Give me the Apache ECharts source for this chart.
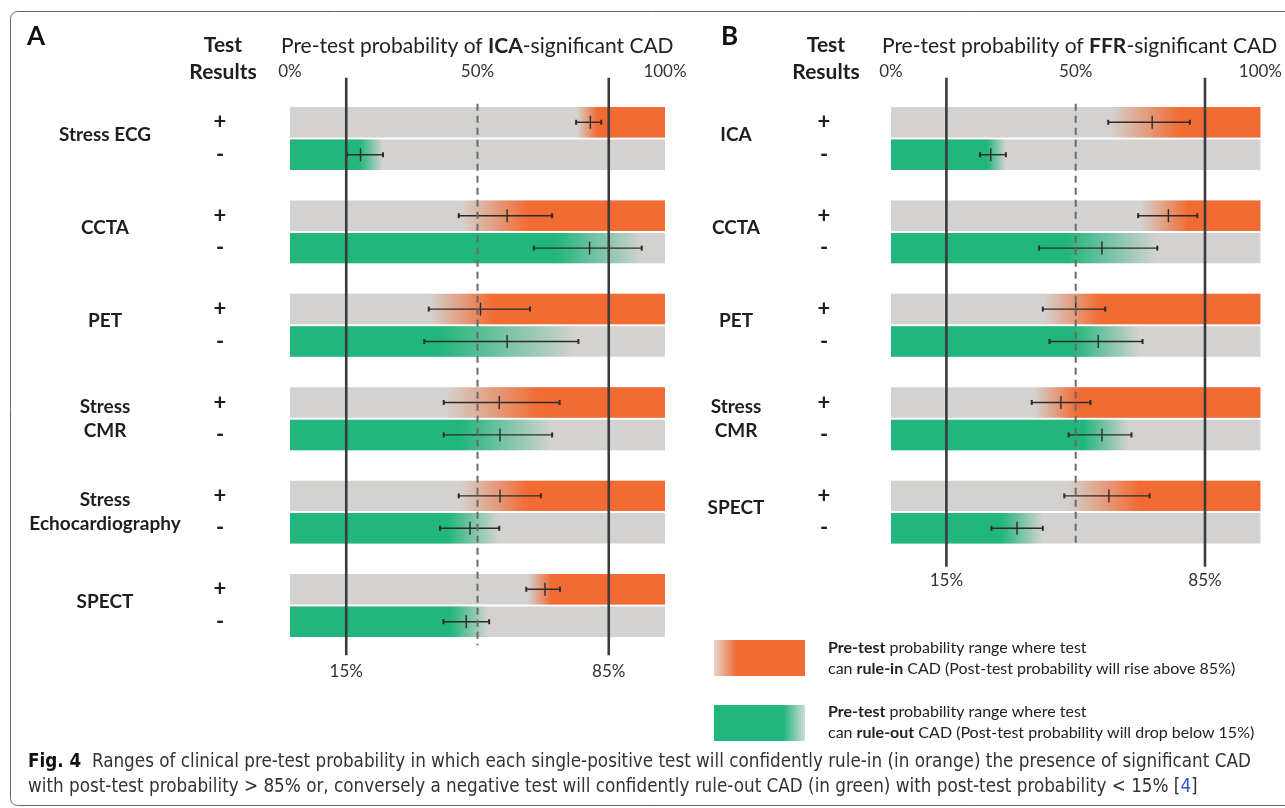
<!DOCTYPE html>
<html>
<head>
<meta charset="utf-8">
<script src="https://cdn.jsdelivr.net/npm/echarts@6/dist/echarts.min.js"></script>
<style>html,body{margin:0;padding:0;background:#fff;}#c{width:1285px;height:808px;}</style>
</head>
<body>
<div id="c"></div>
<script>
// ---------------- data ----------------
const testsA = ['Stress ECG', 'CCTA', 'PET', 'Stress\nCMR', 'Stress\nEchocardiography', 'SPECT'];
const testsB = ['ICA', 'CCTA', 'PET', 'Stress\nCMR', 'SPECT'];
const topTicks = [0, 50, 100];
const refLines = [15, 85];
const midLine = [50];

// positive test: [fade start, full orange from]
const aPosFade = [[76.5, 82.0], [45.7, 63.4], [37.3, 54.1], [41.3, 66.5], [45.3, 63.4], [63.4, 69.7]];
// error bars [low, mid, high]
const aPosErr = [[76.3, 80.1, 83.0], [45.0, 57.9, 69.9], [37.0, 50.8, 64.0], [41.0, 55.8, 71.9], [45.0, 56.0, 66.9], [63.0, 68.0, 72.0]];
// negative test: [full green until, fade end]
const aNegFade = [[18.5, 24.8], [71.0, 94.1], [40.0, 76.3], [45.7, 69.7], [42.1, 55.5], [43.0, 52.8]];
const aNegErr = [[15.2, 18.8, 24.8], [65.0, 79.9, 93.8], [35.8, 57.9, 76.9], [41.0, 56.0, 69.9], [40.0, 48.0, 55.8], [40.9, 47.0, 53.1]];

const bPosFade = [[59.3, 78.2], [67.6, 80.5], [41.4, 56.5], [38.8, 50.3], [47.6, 67.2]];
const bPosErr = [[58.8, 70.7, 80.9], [66.9, 75.1, 82.9], [41.1, 50.0, 58.0], [38.1, 46.0, 54.0], [46.9, 59.0, 70.0]];
const bNegFade = [[26.1, 31.1], [47.6, 72.0], [49.4, 67.2], [52.1, 64.5], [29.9, 41.0]];
const bNegErr = [[24.1, 27.0, 31.1], [40.1, 57.1, 72.1], [42.9, 56.1, 68.1], [48.1, 57.1, 65.1], [27.2, 34.1, 41.1]];

// ---------------- styles ----------------
const GREY = '#d3d2d0', ORANGE = '#f26b32', GREEN = '#21b67c', LINE = '#3b3b3b', TXT = '#1e1e1e';
const FONT = 'Lato, "Open Sans", sans-serif';
const CAPFONT = '"Liberation Sans Narrow", "DejaVu Sans Condensed", Lato';

function rows(fade, err) {
  return fade.map((f, i) => [i, f[0], f[1], err[i][0], err[i][1], err[i][2]]);
}

function rowRender(sign, signOffset) {
  return function (params, api) {
    const cat = api.value(0);
    const c = api.coord([0, cat]);
    const band = api.size([0, 1])[1];
    const h = band * 0.326;
    const yTop = sign > 0 ? c[1] - 1 - h : c[1] + 1;
    const yc = yTop + h / 2;
    const X = v => api.coord([v, cat])[0];
    const x0 = X(0), x100 = X(100), xs = X(api.value(1)), xe = X(api.value(2));
    const lo = X(api.value(3)), mid = X(api.value(4)), hi = X(api.value(5));
    const ch = [];
    ch.push({ type: 'rect', shape: { x: x0, y: yTop, width: x100 - x0, height: h }, style: { fill: GREY } });
    if (sign > 0) {
      ch.push({ type: 'rect', shape: { x: xs, y: yTop, width: xe - xs, height: h },
        style: { fill: { type: 'linear', x: 0, y: 0, x2: 1, y2: 0, colorStops: [
          { offset: 0, color: 'rgba(242,107,50,0)' }, { offset: 1, color: ORANGE }] } } });
      ch.push({ type: 'rect', shape: { x: xe - 0.5, y: yTop, width: x100 - xe + 0.5, height: h }, style: { fill: ORANGE } });
    } else {
      ch.push({ type: 'rect', shape: { x: x0, y: yTop, width: xs - x0 + 0.5, height: h }, style: { fill: GREEN } });
      ch.push({ type: 'rect', shape: { x: xs, y: yTop, width: xe - xs, height: h },
        style: { fill: { type: 'linear', x: 0, y: 0, x2: 1, y2: 0, colorStops: [
          { offset: 0, color: GREEN }, { offset: 1, color: 'rgba(33,182,124,0)' }] } } });
    }
    const es = { stroke: '#2b2b2b', lineWidth: 1.4 };
    ch.push({ type: 'line', shape: { x1: lo, y1: yc, x2: hi, y2: yc }, style: es });
    ch.push({ type: 'line', shape: { x1: lo, y1: yc - 2.5, x2: lo, y2: yc + 2.5 }, style: { stroke: '#2b2b2b', lineWidth: 2 } });
    ch.push({ type: 'line', shape: { x1: hi, y1: yc - 2.5, x2: hi, y2: yc + 2.5 }, style: { stroke: '#2b2b2b', lineWidth: 2 } });
    ch.push({ type: 'line', shape: { x1: mid, y1: yc - 6.5, x2: mid, y2: yc + 6.5 }, style: es });
    ch.push({ type: 'text', style: { text: sign > 0 ? '+' : '-', x: x0 - signOffset, y: yc,
      align: 'center', verticalAlign: 'middle', font: 'bold 22px ' + FONT, fill: TXT } });
    return { type: 'group', children: ch };
  };
}

function refRender(topExt, botExt, dashed) {
  return function (params, api) {
    const x = api.coord([api.value(0), 0])[0];
    const cs = params.coordSys;
    return { type: 'line', shape: { x1: x, y1: cs.y - topExt, x2: x, y2: cs.y + cs.height + botExt },
      style: dashed ? { stroke: '#6a6a6a', lineWidth: 2, lineDash: [7, 5] } : { stroke: LINE, lineWidth: 2.6 } };
  };
}

function topAxis(g) {
  return { gridIndex: g, type: 'value', min: 0, max: 100, interval: 50, position: 'top',
    axisLine: { show: false }, axisTick: { show: false }, splitLine: { show: false },
    axisLabel: { margin: 12, fontSize: 17, color: '#333', fontFamily: FONT,
      formatter: v => topTicks.includes(v) ? v + '%' : '' } };
}
function botAxis(g, m) {
  return { gridIndex: g, type: 'value', min: 0, max: 100, interval: 5, position: 'bottom',
    axisLine: { show: false }, axisTick: { show: false }, splitLine: { show: false },
    axisLabel: { margin: m, fontSize: 17, color: '#333', fontFamily: FONT, showMinLabel: true, showMaxLabel: true,
      formatter: v => refLines.includes(v) ? v + '%' : '' } };
}
function catAxis(g, data, m) {
  return { gridIndex: g, type: 'category', data: data, inverse: true,
    axisLine: { show: false }, axisTick: { show: false }, splitLine: { show: false },
    axisLabel: { margin: m, align: 'center', fontSize: 19, fontWeight: 'bold', lineHeight: 24,
      color: TXT, fontFamily: FONT,
      formatter: v => v.indexOf('\n') >= 0 ? v : '{s|' + v + '}',
      rich: { s: { fontSize: 19, fontWeight: 'bold', fontFamily: FONT, color: TXT, padding: [0, 0, 8, 0] } } } };
}

function custom(xi, yi, data, render, z) {
  return { type: 'custom', xAxisIndex: xi, yAxisIndex: yi, data: data, renderItem: render,
    encode: { x: [1], y: 0 }, z: z, silent: true, animation: false, clip: false };
}

const legendBold = { fontWeight: 'bold', fontSize: 16, fontFamily: FONT, fill: '#222' };

const option = {
  animation: false,
  backgroundColor: '#fff',
  grid: [
    { left: 290, top: 91.8, width: 375, height: 560.4 },
    { left: 891, top: 91.8, width: 375, height: 467.0 }
  ],
  xAxis: [topAxis(0), botAxis(0, 11), topAxis(1), botAxis(1, 13)],
  yAxis: [catAxis(0, testsA, 185), catAxis(1, testsB, 155)],
  series: [
    custom(0, 0, rows(aPosFade, aPosErr), rowRender(1, 70), 2),
    custom(0, 0, rows(aNegFade, aNegErr), rowRender(-1, 70), 2),
    custom(0, 0, refLines.map(v => [v, 0]), refRender(14, 3, false), 3),
    custom(0, 0, midLine.map(v => [v, 0]), refRender(-12, -7, true), 3),
    custom(2, 1, rows(bPosFade, bPosErr), rowRender(1, 67), 2),
    custom(2, 1, rows(bNegFade, bNegErr), rowRender(-1, 67), 2),
    custom(2, 1, refLines.map(v => [v, 0]), refRender(14, 8, false), 3),
    custom(2, 1, midLine.map(v => [v, 0]), refRender(-12, -14, true), 3)
  ],
  graphic: [
    { type: 'rect', shape: { x: 10.5, y: 11.5, width: 1300, height: 794, r: 7 }, style: { fill: 'none', stroke: '#666', lineWidth: 1 }, z: -1 },
    { type: 'text', style: { text: 'A', x: 27, y: 37, verticalAlign: 'middle', font: 'bold 26px ' + FONT, fill: '#111' } },
    { type: 'text', style: { text: 'B', x: 721, y: 37, verticalAlign: 'middle', font: 'bold 26px ' + FONT, fill: '#111' } },
    { type: 'text', style: { text: 'Test\nResults', x: 223, y: 59, align: 'center', verticalAlign: 'middle', font: 'bold 21px ' + FONT, lineHeight: 27, fill: TXT } },
    { type: 'text', style: { text: 'Test\nResults', x: 826, y: 59, align: 'center', verticalAlign: 'middle', font: 'bold 21px ' + FONT, lineHeight: 27, fill: TXT } },
    { type: 'text', style: { text: 'Pre-test probability of {b|ICA}-significant CAD', x: 281, y: 46, verticalAlign: 'middle',
      font: '21px ' + FONT, fill: '#222', rich: { b: { fontWeight: 'bold', fontSize: 21, fontFamily: FONT, fill: '#222' } } } },
    { type: 'text', style: { text: 'Pre-test probability of {b|FFR}-significant CAD', x: 882, y: 46, verticalAlign: 'middle',
      font: '21px ' + FONT, fill: '#222', rich: { b: { fontWeight: 'bold', fontSize: 21, fontFamily: FONT, fill: '#222' } } } },
    // legend
    { type: 'rect', shape: { x: 714, y: 640, width: 91, height: 36 },
      style: { fill: { type: 'linear', x: 0, y: 0, x2: 1, y2: 0, colorStops: [
        { offset: 0, color: '#e4d5cc' }, { offset: 0.25, color: ORANGE }, { offset: 1, color: ORANGE }] } } },
    { type: 'rect', shape: { x: 714, y: 705, width: 91, height: 36 },
      style: { fill: { type: 'linear', x: 0, y: 0, x2: 1, y2: 0, colorStops: [
        { offset: 0, color: GREEN }, { offset: 0.76, color: GREEN }, { offset: 1, color: '#cfdcd5' }] } } },
    { type: 'text', style: { text: '{b|Pre-test} probability range where test\ncan {b|rule-in} CAD (Post-test probability will rise above 85%)',
      x: 828, y: 658, verticalAlign: 'middle', font: '16px ' + FONT, lineHeight: 21, fill: '#222', rich: { b: legendBold } } },
    { type: 'text', style: { text: '{b|Pre-test} probability range where test\ncan {b|rule-out} CAD (Post-test probability will drop below 15%)',
      x: 828, y: 722, verticalAlign: 'middle', font: '16px ' + FONT, lineHeight: 21, fill: '#222', rich: { b: legendBold } } },
    // caption
    { type: 'text', style: { text: '{b|Fig. 4}  Ranges of clinical pre-test probability in which each single-positive test will confidently rule-in (in orange) the presence of significant CAD\nwith post-test probability > 85% or, conversely a negative test will confidently rule-out CAD (in green) with post-test probability < 15% [{l|4}]',
      x: 28, y: 775, verticalAlign: 'middle', font: '18.7px ' + CAPFONT, lineHeight: 25, fill: '#333',
      rich: { b: { fontWeight: 'bold', fontSize: 18.7, fontFamily: CAPFONT, fill: '#111' },
              l: { fontSize: 18.7, fontFamily: CAPFONT, fill: '#2f58c9' } } } }
  ]
};

const chart = echarts.init(document.getElementById('c'), null, { renderer: 'canvas' });
chart.setOption(option);
</script>
</body>
</html>
